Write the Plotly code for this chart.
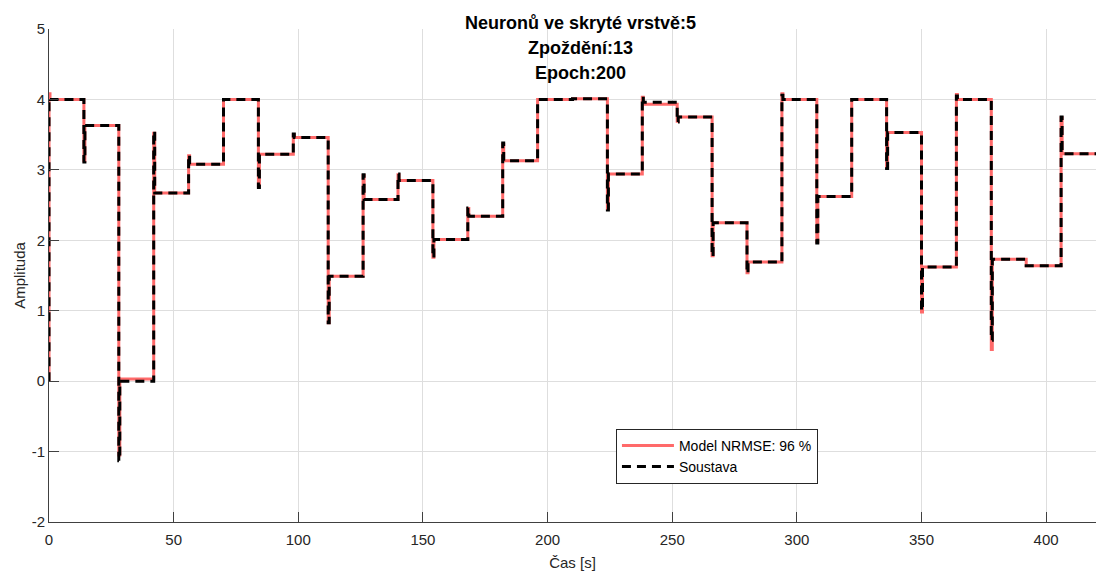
import plotly.graph_objects as go

# Step instants of the excitation [s] and end of the record
step_t = [0, 14, 28, 42, 56, 70, 84, 98, 112, 126, 140, 154, 168, 182, 196,
          210, 224, 238, 252, 266, 280, 294, 308, 322, 336, 350, 364, 378, 392, 406]
t_end = 420

# Measured system output ("Soustava"): settled level after each step and peak at the step
sys_level = [4.00, 3.63, 0.00, 2.67, 3.08, 4.00, 3.22, 3.46, 1.49, 2.58, 2.85, 2.01, 2.34, 3.13, 4.00,
             4.01, 2.94, 3.96, 3.75, 2.25, 1.69, 4.00, 2.62, 4.00, 3.53, 1.62, 4.00, 1.73, 1.64, 3.23]
sys_peak = [4.02, 3.11, -1.13, 3.55, 3.21, 4.00, 2.75, 3.51, 0.83, 2.93, 2.94, 1.75, 2.46, 3.38, 4.00,
            4.01, 2.43, 4.04, 3.68, 1.77, 1.53, 4.06, 1.96, 4.00, 3.02, 1.00, 4.05, 0.58, 1.64, 3.75]

# Neural network model output
mod_level = [4.00, 3.63, 0.03, 2.67, 3.08, 4.00, 3.22, 3.46, 1.49, 2.58, 2.85, 2.01, 2.34, 3.13, 4.00,
             4.01, 2.94, 3.93, 3.75, 2.25, 1.69, 4.00, 2.62, 4.00, 3.53, 1.62, 4.00, 1.73, 1.64, 3.23]
mod_peak = [4.08, 3.13, -1.05, 3.52, 3.20, 4.00, 2.77, 3.50, 0.83, 2.92, 2.93, 1.76, 2.45, 3.36, 4.00,
            4.01, 2.45, 4.03, 3.69, 1.78, 1.54, 4.08, 1.98, 4.00, 3.04, 0.98, 4.07, 0.45, 1.64, 3.74]

start_value = 0.0
settle = 0.4  # time the output spends at the peak before settling [s]
nrmse = 96

# Axis ticks
x_ticks = [0, 50, 100, 150, 200, 250, 300, 350, 400]
x_ticklabels = ["0", "50", "100", "150", "200", "250", "300", "350", "400"]
y_ticks = [-2, -1, 0, 1, 2, 3, 4, 5]
y_ticklabels = ["-2", "-1", "0", "1", "2", "3", "4", "5"]


def step_series(levels, peaks):
    xs, ys = [0], [start_value]
    for t, pk, lv in zip(step_t, peaks, levels):
        xs += [t, t + settle]
        ys += [pk, lv]
    xs.append(t_end)
    ys.append(levels[-1])
    return xs, ys


mx, my = step_series(mod_level, mod_peak)
sx, sy = step_series(sys_level, sys_peak)

FONT = "Liberation Sans, Arial, Helvetica, sans-serif"
AX = "#262626"

fig = go.Figure()
fig.add_trace(go.Scatter(
    x=mx, y=my, mode="lines", line_shape="hv",
    name=f"Model NRMSE: {nrmse} %",
    line=dict(color="#ff6a6a", width=3),
))
fig.add_trace(go.Scatter(
    x=sx, y=sy, mode="lines", line_shape="hv",
    name="Soustava",
    line=dict(color="#000000", width=3, dash="9px,6px"),
))

axis_common = dict(
    showgrid=True, gridcolor="#dedede", gridwidth=1,
    showline=True, linecolor="#404040", linewidth=1,
    ticks="inside", ticklen=10, tickcolor="#404040", tickwidth=1,
    tickfont=dict(family=FONT, size=15, color=AX),
    zeroline=False, mirror=False, tickmode="array",
)

fig.update_xaxes(range=[0, 420], tickvals=x_ticks, ticktext=x_ticklabels, ticklabelstandoff=4,
                 title=dict(text="Čas [s]", font=dict(family=FONT, size=15, color=AX), standoff=12),
                 **axis_common)
fig.update_yaxes(range=[-2, 5], tickvals=y_ticks, ticktext=y_ticklabels,
                 title=dict(text="Amplituda", font=dict(family=FONT, size=15, color=AX), standoff=2),
                 **axis_common)

title_lines = ["Neuronů ve skryté vrstvě:5", "Zpoždění:13", "Epoch:200"]
title_y = [1.013, 0.962, 0.911]
for txt, yy in zip(title_lines, title_y):
    fig.add_annotation(text=f"<b>{txt}</b>", xref="paper", yref="paper",
                       x=0.508, y=yy, xanchor="center", yanchor="middle",
                       showarrow=False, font=dict(family=FONT, size=18, color="#000000"))

fig.update_layout(
    width=1096, height=571,
    margin=dict(l=49, r=0, t=29, b=49),
    paper_bgcolor="white", plot_bgcolor="white",
    showlegend=True,
    legend=dict(
        x=0.5415, y=0.189, xanchor="left", yanchor="top",
        bgcolor="white", bordercolor=AX, borderwidth=1,
        font=dict(family=FONT, size=14, color="#000000"),
        itemwidth=52, tracegroupgap=0,
    ),
)

fig.write_html("out.html")
